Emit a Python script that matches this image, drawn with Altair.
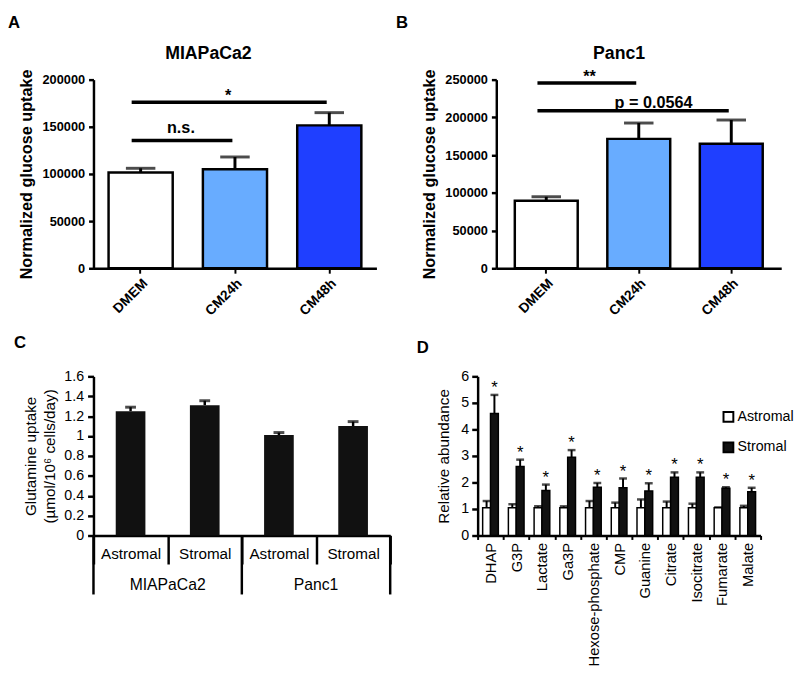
import altair as alt
import pandas as pd

FONT = "Liberation Sans"
BLACK = "#000000"

# ---------------- data ----------------
a_conditions = ["DMEM", "CM24h", "CM48h"]
a_means = [101500, 105000, 151500]
a_errs = [106000, 118000, 165000]
a_sig_from = ["DMEM", "DMEM"]
a_sig_to = ["CM24h", "CM48h"]
a_sig_level = [135500, 176000]
a_sig_text = ["n.s.", "*"]
a_sig_at = ["DMEM", "CM24h"]
a_ticks = [0, 50000, 100000, 150000, 200000]

b_conditions = ["DMEM", "CM24h", "CM48h"]
b_means = [89500, 171500, 165000]
b_errs = [94800, 192500, 196500]
b_sig_from = ["DMEM", "DMEM"]
b_sig_to = ["CM24h", "CM48h"]
b_sig_level = [245600, 208700]
b_sig_text = ["**", "p = 0.0564"]
b_sig_at = ["DMEM", "CM24h"]
b_ticks = [0, 50000, 100000, 150000, 200000, 250000]

condition_colors = ["#FFFFFF", "#68ACFF", "#1F3FFF"]

c_lines = ["MIAPaCa2", "MIAPaCa2", "Panc1", "Panc1"]
c_conditions = ["Astromal", "Stromal", "Astromal", "Stromal"]
c_means = [1.25, 1.31, 1.01, 1.10]
c_errs = [1.29, 1.355, 1.035, 1.145]
c_groups = ["MIAPaCa2", "Panc1"]
c_ticks = [0, 0.2, 0.4, 0.6, 0.8, 1.0, 1.2, 1.4, 1.6]

d_metabolites = ["DHAP", "G3P", "Lactate", "Ga3P", "Hexose-phosphate", "CMP",
                 "Guanine", "Citrate", "Isocitrate", "Fumarate", "Malate"]
d_astromal_mean = [1.05, 1.05, 1.05, 1.05, 1.05, 1.05, 1.05, 1.05, 1.05, 1.05, 1.05]
d_astromal_err = [1.3, 1.18, 1.1, 1.1, 1.3, 1.24, 1.36, 1.28, 1.2, 1.06, 1.12]
d_stromal_mean = [4.6, 2.6, 1.7, 2.95, 1.82, 1.8, 1.68, 2.2, 2.2, 1.78, 1.65]
d_stromal_err = [5.3, 2.86, 1.92, 3.22, 1.98, 2.15, 1.97, 2.38, 2.38, 1.82, 1.8]
d_significance = ["*", "*", "*", "*", "*", "*", "*", "*", "*", "*", "*"]
d_groups = ["Astromal", "Stromal"]
d_group_colors = ["#FFFFFF", "#111111"]
d_ticks = [0, 1, 2, 3, 4, 5, 6]


def text_layer(txt, x, y, size, weight="normal", align="left", baseline="top"):
    return alt.Chart(pd.DataFrame({"t": [txt]})).mark_text(
        font=FONT, fontSize=size, fontWeight=weight, align=align,
        baseline=baseline, color=BLACK
    ).encode(x=alt.value(x), y=alt.value(y), text="t:N")


def glucose_panel(letter, title, conds, means, errs, sig_from, sig_to, sig_level,
                  sig_text, sig_at, ticks, width, pad_outer, text_dx, text_dy,
                  title_x, letter_x):
    height = 192
    df = pd.DataFrame({"cond": conds, "mean": means, "err": errs})
    sig = pd.DataFrame({"from": sig_from, "to": sig_to, "level": sig_level,
                        "label": sig_text, "at": sig_at})
    xs = alt.Scale(domain=conds, paddingInner=0.32, paddingOuter=pad_outer)
    ys = alt.Scale(domain=[ticks[0], ticks[-1]], nice=False)
    xa = alt.Axis(title=None, labelAngle=-45, labelFont=FONT, labelFontSize=14,
                  labelFontWeight="bold", labelColor=BLACK, domainColor=BLACK,
                  domainWidth=2.5, tickColor=BLACK, tickWidth=2, tickSize=5,
                  labelPadding=3)
    ya = alt.Axis(title="Normalized glucose uptake", values=ticks, format="d",
                  grid=False, labelFont=FONT, labelFontSize=13,
                  labelFontWeight="bold", labelColor=BLACK, titleFont=FONT,
                  titleFontSize=16.5, titleFontWeight="bold", titleColor=BLACK,
                  domainColor=BLACK, domainWidth=2.5, tickColor=BLACK,
                  tickWidth=2.5, tickSize=5, labelPadding=4, titlePadding=8)

    def X(field, **kw):
        return alt.X(f"{field}:N", scale=xs, axis=xa, **kw)

    def Y(field):
        return alt.Y(f"{field}:Q", scale=ys, axis=ya)

    base = alt.Chart(df)
    err = base.mark_rule(color=BLACK, strokeWidth=3).encode(
        x=X("cond"), y=Y("mean"), y2="err:Q")
    cap = base.mark_tick(color=BLACK, size=30, thickness=3).encode(
        x=X("cond"), y=Y("err"))
    bars = base.mark_bar(stroke=BLACK, strokeWidth=2.5).encode(
        x=X("cond"), y=Y("mean"),
        fill=alt.Fill("cond:N", scale=alt.Scale(domain=conds, range=condition_colors),
                      legend=None))
    lines = alt.Chart(sig).mark_rule(color=BLACK, strokeWidth=3.5).encode(
        x=X("from", bandPosition=0.36),
        x2=alt.X2("to:N", bandPosition=0.46),
        y=Y("level"))
    texts = []
    for i in range(len(sig)):
        texts.append(
            alt.Chart(sig.iloc[[i]]).mark_text(
                font=FONT, fontSize=16.5, fontWeight="bold", color=BLACK,
                align="center", baseline="alphabetic", dx=text_dx[i], dy=text_dy[i]
            ).encode(x=X("at"), y=Y("level"), text="label:N"))
    ttl = text_layer(title, title_x, -26, 18, "bold", "center", "middle")
    let = text_layer(letter, letter_x, -66, 17, "bold", "left", "top")
    return alt.layer(err, cap, bars, lines, *texts, ttl, let).properties(
        width=width, height=height)


panel_a = glucose_panel("A", "MIAPaCa2", a_conditions, a_means, a_errs, a_sig_from,
                        a_sig_to, a_sig_level, a_sig_text, a_sig_at, a_ticks,
                        288, 0.16, [41, -7], [-8, -1], 117, -87)
panel_b = glucose_panel("B", "Panc1", b_conditions, b_means, b_errs, b_sig_from,
                        b_sig_to, b_sig_level, b_sig_text, b_sig_at, b_ticks,
                        290, 0.2, [44, 15], [-1, -3], 125, -102)

# ---------------- panel C ----------------
c_keys = [f"{l}|{c}" for l, c in zip(c_lines, c_conditions)]
c_df = pd.DataFrame({"key": c_keys, "mean": c_means, "err": c_errs})
c_group_df = pd.DataFrame({"key": [c_keys[c_lines.index(g)] for g in c_groups],
                           "label": c_groups})
c_end_df = pd.DataFrame({"key": [c_keys[-1]]})
C_W, C_H = 302, 162
cxs = alt.Scale(domain=c_keys, paddingInner=0, paddingOuter=0)
cys = alt.Scale(domain=[0, 1.6], nice=False)
cxa = alt.Axis(title=None, labelExpr="split(datum.label, '|')[1]", labelAngle=0,
               tickBand="extent", tickSize=29, tickWidth=2.5, tickColor=BLACK,
               domainColor=BLACK, domainWidth=2.5, labelFont=FONT,
               labelFontSize=15.5, labelColor=BLACK, labelPadding=-18)
cya = alt.Axis(title=["Glutamine uptake", "(µmol/10⁶ cells/day)"], values=c_ticks,
               format=".1~f", grid=False, labelFont=FONT, labelFontSize=14.5,
               labelColor=BLACK, titleFont=FONT, titleFontSize=15.5,
               titleFontWeight="normal", titleColor=BLACK, titleLineHeight=19,
               domainColor=BLACK, domainWidth=2.5, tickColor=BLACK, tickWidth=2.5,
               tickSize=6, labelPadding=4, titlePadding=7)


def CX(**kw):
    return alt.X("key:N", scale=cxs, axis=cxa, **kw)


def CY(field):
    return alt.Y(f"{field}:Q", scale=cys, axis=cya)


c_base = alt.Chart(c_df)
c_err = c_base.mark_rule(color=BLACK, strokeWidth=2.5).encode(
    x=CX(), y=CY("mean"), y2="err:Q")
c_cap = c_base.mark_tick(color=BLACK, size=11, thickness=3).encode(x=CX(), y=CY("err"))
c_bars = c_base.mark_bar(color="#111111", width=alt.RelativeBandSize(0.4)).encode(
    x=CX(), y=CY("mean"))
c_sep = alt.Chart(c_group_df).mark_rule(color=BLACK, strokeWidth=2.5).encode(
    x=CX(bandPosition=0), y=alt.value(C_H), y2=alt.value(C_H + 60))
c_sep_end = alt.Chart(c_end_df).mark_rule(color=BLACK, strokeWidth=2.5).encode(
    x=CX(bandPosition=1), y=alt.value(C_H), y2=alt.value(C_H + 60))
c_glab = alt.Chart(c_group_df).mark_text(
    font=FONT, fontSize=16, color=BLACK, align="center", baseline="middle").encode(
    x=CX(bandPosition=1), y=alt.value(C_H + 50), text="label:N")
c_let = text_layer("C", -81, -42, 17, "bold", "left", "top")
panel_c = alt.layer(c_err, c_cap, c_bars, c_sep, c_sep_end, c_glab, c_let).properties(
    width=C_W, height=C_H)

# ---------------- panel D ----------------
rows = []
for i, m in enumerate(d_metabolites):
    rows.append({"metabolite": m, "group": d_groups[0], "mean": d_astromal_mean[i],
                 "err": d_astromal_err[i], "sig": ""})
    rows.append({"metabolite": m, "group": d_groups[1], "mean": d_stromal_mean[i],
                 "err": d_stromal_err[i], "sig": d_significance[i]})
d_df = pd.DataFrame(rows)
D_W, D_H = 288, 162
dxs = alt.Scale(domain=d_metabolites, paddingInner=0, paddingOuter=0)
dys = alt.Scale(domain=[0, 6], nice=False)
dxa = alt.Axis(title=None, labelAngle=-90, tickBand="extent", tickSize=4,
               tickWidth=2, tickColor=BLACK, domainColor=BLACK, domainWidth=2.5,
               labelFont=FONT, labelFontSize=15, labelColor=BLACK, labelPadding=3)
dya = alt.Axis(title="Relative abundance", values=d_ticks, grid=False,
               labelFont=FONT, labelFontSize=14.5, labelColor=BLACK,
               titleFont=FONT, titleFontSize=15.5, titleFontWeight="normal",
               titleColor=BLACK, domainColor=BLACK, domainWidth=2.5,
               tickColor=BLACK, tickWidth=2.5, tickSize=6, labelPadding=3,
               titlePadding=10)


def DX():
    return alt.X("metabolite:N", scale=dxs, axis=dxa)


def DXO():
    return alt.XOffset("group:N", scale=alt.Scale(domain=d_groups, paddingInner=0,
                                                  paddingOuter=0.64))


def DY(field):
    return alt.Y(f"{field}:Q", scale=dys, axis=dya)


d_base = alt.Chart(d_df)
d_err = d_base.mark_rule(color=BLACK, strokeWidth=2).encode(
    x=DX(), xOffset=DXO(), y=DY("mean"), y2="err:Q")
d_cap = d_base.mark_tick(color=BLACK, size=8, thickness=2.5).encode(
    x=DX(), xOffset=DXO(), y=DY("err"))
d_bars = d_base.mark_bar(stroke=BLACK, strokeWidth=1.5).encode(
    x=DX(), xOffset=DXO(), y=DY("mean"),
    fill=alt.Fill("group:N", scale=alt.Scale(domain=d_groups, range=d_group_colors),
                  legend=alt.Legend(orient="none", legendX=248, legendY=34,
                                    title=None, symbolType="square", symbolSize=100,
                                    symbolStrokeColor=BLACK, symbolStrokeWidth=2,
                                    labelFont=FONT, labelFontSize=14.5,
                                    labelColor=BLACK, rowPadding=12, labelOffset=2)))
d_star = d_base.transform_filter(alt.datum.sig != "").mark_text(
    font=FONT, fontSize=17, color=BLACK, align="center", baseline="alphabetic",
    dy=-2).encode(x=DX(), xOffset=DXO(), y=DY("err"), text="sig:N")
d_let = text_layer("D", -62, -37, 17, "bold", "left", "top")
panel_d = alt.layer(d_err, d_cap, d_bars, d_star, d_let).properties(
    width=D_W, height=D_H)

# plot areas: A at x=95, B at x=505 -> gap 122; C at x=89 (ends 391), D at x=480 -> gap 89
row1 = alt.hconcat(panel_a, panel_b, spacing=122, bounds="flush").resolve_scale(
    x="independent", y="independent", fill="independent")
row2 = alt.hconcat(panel_c, panel_d, spacing=89, bounds="flush").resolve_scale(
    x="independent", y="independent", fill="independent")
chart = alt.vconcat(row1, row2, spacing=16).resolve_scale(
    x="independent", y="independent", fill="independent"
).properties(padding=0, background="white").configure_view(stroke=None)

chart.save("out.html", embed_options={"renderer": "svg", "actions": False})
